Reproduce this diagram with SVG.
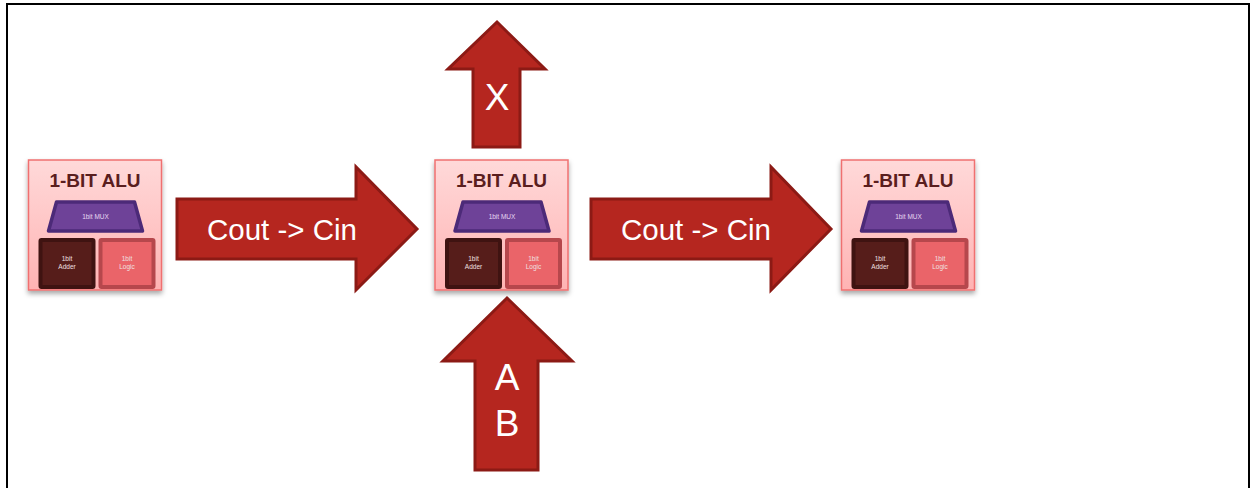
<svg xmlns="http://www.w3.org/2000/svg" width="1251" height="488" viewBox="0 0 1251 488">
<defs>
<linearGradient id="boxg" x1="0" y1="0" x2="0" y2="1">
<stop offset="0" stop-color="#ffd9d9"/>
<stop offset="1" stop-color="#ffb3b3"/>
</linearGradient>
<filter id="sh" x="-20%" y="-20%" width="140%" height="140%">
<feDropShadow dx="0" dy="3" stdDeviation="2.5" flood-color="#000" flood-opacity="0.35"/>
</filter>
<g id="alu">
<rect x="0" y="0" width="133" height="130" fill="url(#boxg)" stroke="#f07070" stroke-width="1.5" filter="url(#sh)"/>
<text x="66.5" y="27" class="title">1-BIT ALU</text>
<path d="M28,42 H106 L114,71 H20 Z" fill="#6e4298" stroke="#4c2a78" stroke-width="3.5" stroke-linejoin="round"/>
<text x="67" y="59" class="mux">1bit MUX</text>
<rect x="12" y="80" width="53" height="47" fill="#561d1a" stroke="#3f1311" stroke-width="4" rx="1"/>
<rect x="72" y="80" width="53" height="47" fill="#ea6469" stroke="#b6474c" stroke-width="4" rx="1"/>
<text x="38.5" y="101" class="sm">1bit</text>
<text x="38.5" y="109" class="sm">Adder</text>
<text x="98.5" y="101" class="sm">1bit</text>
<text x="98.5" y="109" class="sm">Logic</text>
</g>
</defs>
<style>
.title{font-family:"Liberation Sans",Arial,sans-serif;font-weight:bold;font-size:19px;fill:#5a1e1e;text-anchor:middle}
.mux{font-family:"Liberation Sans",Arial,sans-serif;font-size:6.5px;fill:#e6d8f2;text-anchor:middle}
.sm{font-family:"Liberation Sans",Arial,sans-serif;font-size:6.5px;fill:#f0e0e0;text-anchor:middle}
.arrow{fill:#b5261f;stroke:#8c1a15;stroke-width:3;stroke-linejoin:miter}
.lbl{font-family:"Liberation Sans",Arial,sans-serif;fill:#ffffff;text-anchor:middle}
</style>
<rect width="1251" height="488" fill="#ffffff"/>
<path d="M7,488 V4 H1249 V488" fill="none" stroke="#000" stroke-width="2"/>
<g id="connectors">
<g id="arrow-cout1">
<path class="arrow" d="M177,199 H356 V167 L417,229 L356,290 V259 H177 Z"/>
<text class="lbl" x="282" y="240" font-size="29.5">Cout -&gt; Cin</text>
</g>
<g id="arrow-cout2">
<path class="arrow" d="M591,199 H771 V167 L831,229 L771,290 V259 H591 Z"/>
<text class="lbl" x="696" y="240" font-size="29.5">Cout -&gt; Cin</text>
</g>
<g id="arrow-x">
<path class="arrow" d="M497,22 L545,69 H520 V147 H473 V69 H448 Z"/>
<text class="lbl" x="497" y="110" font-size="37">X</text>
</g>
<g id="arrow-ab">
<path class="arrow" d="M507,298 L572,361 H538 V470 H475 V361 H443 Z"/>
<text class="lbl" x="507" y="390" font-size="37">A</text>
<text class="lbl" x="507" y="436" font-size="37">B</text>
</g>
</g>
<g id="alu1"><use href="#alu" x="28.5" y="160"/></g>
<g id="alu2"><use href="#alu" x="435" y="160"/></g>
<g id="alu3"><use href="#alu" x="841.5" y="160"/></g>
</svg>
